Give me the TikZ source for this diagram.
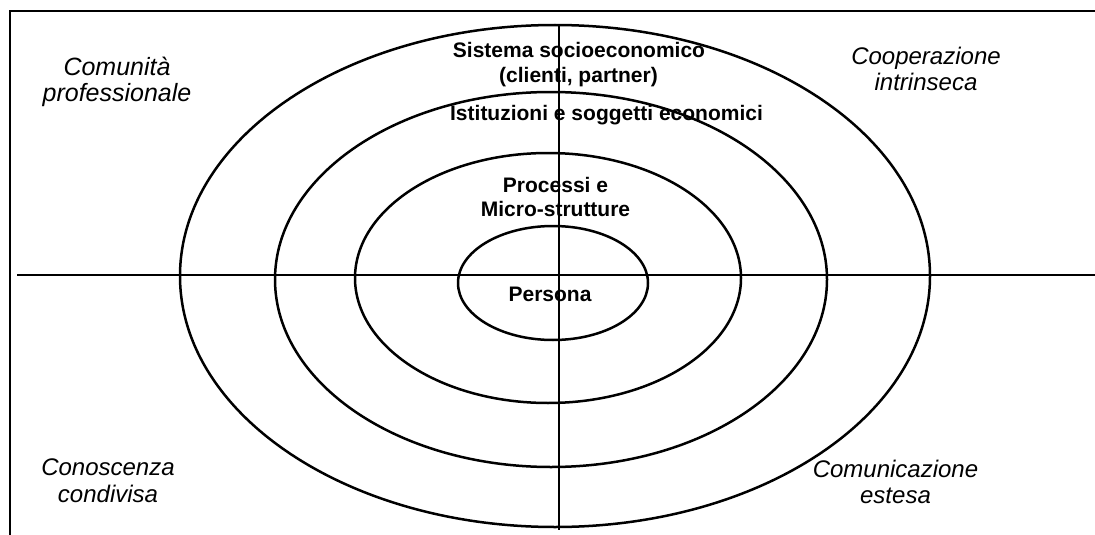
\documentclass[tikz,border=0pt]{standalone}
\usepackage{fontspec}
\setmainfont{Liberation Sans}
\begin{document}
\begin{tikzpicture}[x=1pt,y=-1pt,
  frameline/.style={line width=2.4pt},
  axisline/.style={line width=1.8pt},
  ring/.style={line width=2.5pt},
  levellabel/.style={anchor=base,inner sep=0pt,font=\fontsize{21}{24}\selectfont\bfseries},
  quadlabel/.style={anchor=base,inner sep=0pt,font=\fontsize{24}{27.6}\selectfont\itshape}]
  \useasboundingbox (0,0) rectangle (1095,535);

  % open frame: top and left edges
  \coordinate (ftl) at (10,11);
  \coordinate (ftr) at (1095,11);
  \coordinate (fbl) at (10,535);
  \draw[frameline] (ftr) -- (ftl) -- (fbl);

  % concentric levels
  \draw[ring] (555,276) ellipse [x radius=375, y radius=251];
  \draw[ring] (551,279.5) ellipse [x radius=276, y radius=187.5];
  \draw[ring] (548,278) ellipse [x radius=193, y radius=125];
  \draw[ring] (553,283) ellipse [x radius=95, y radius=57];

  % axes
  \coordinate (hl) at (17,275);
  \coordinate (hr) at (1095,275);
  \coordinate (vt) at (559,25);
  \coordinate (vb) at (559,530);
  \draw[axisline] (hl) -- (hr);
  \draw[axisline] (vt) -- (vb);

  % level labels
  \node[levellabel] (sis1) at (579,58) {Sistema socioeconomico};
  \node[levellabel] (sis2) at (578.5,82) {(clienti, partner)};
  \node[levellabel] (ist) at (606.5,120) {Istituzioni e soggetti economici};
  \node[levellabel] (pro1) at (555.5,192) {Processi e};
  \node[levellabel] (pro2) at (555.5,216) {Micro-strutture};
  \node[levellabel] (per) at (550,301) {Persona};

  % quadrant labels
  \node[quadlabel,font=\fontsize{25}{28}\selectfont\itshape] (cp1) at (117,76) {Comunità};
  \node[quadlabel,font=\fontsize{25}{28}\selectfont\itshape] (cp2) at (117,102) {professionale};
  \node[quadlabel] (ci1) at (926,65) {Cooperazione};
  \node[quadlabel] (ci2) at (926,91) {intrinseca};
  \node[quadlabel] (cc1) at (108,475) {Conoscenza};
  \node[quadlabel] (cc2) at (108,502) {condivisa};
  \node[quadlabel] (ce1) at (895.5,477) {Comunicazione};
  \node[quadlabel] (ce2) at (895.5,503) {estesa};
\end{tikzpicture}
\end{document}
